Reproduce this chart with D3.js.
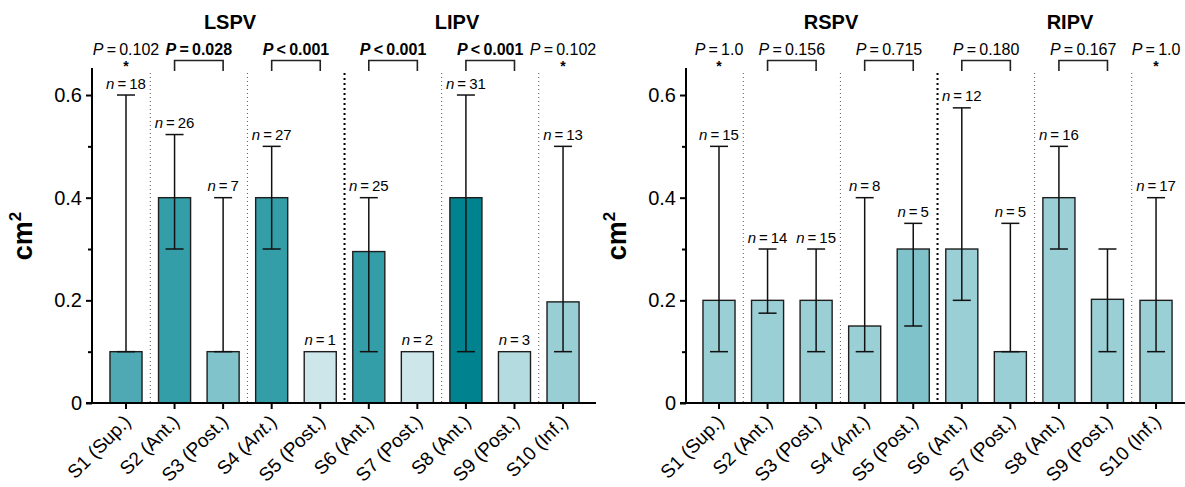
<!DOCTYPE html>
<html>
<head>
<meta charset="utf-8">
<script src="https://cdnjs.cloudflare.com/ajax/libs/d3/7.8.5/d3.min.js"></script>
<style>
  html, body { margin: 0; padding: 0; background: #fff; }
  svg { display: block; }
  text { font-family: "Liberation Sans", Arial, Helvetica, sans-serif; fill: #000; }
</style>
</head>
<body>
<div id="chart"></div>
<script>
// ---------------- DATA ----------------
const categories = ["S1 (Sup.)", "S2 (Ant.)", "S3 (Post.)", "S4 (Ant.)", "S5 (Post.)",
                    "S6 (Ant.)", "S7 (Post.)", "S8 (Ant.)", "S9 (Post.)", "S10 (Inf.)"];
const yTicks = [0, 0.2, 0.4, 0.6];
const yMinorTicks = [0.1, 0.3, 0.5];

// Left panel: LSPV (S1–S5) / LIPV (S6–S10)
const leftTitles = ["LSPV", "LIPV"];
const leftMedian = [0.1, 0.4, 0.1, 0.4, 0.1, 0.295, 0.1, 0.4, 0.1, 0.197];
const leftLow    = [0.1, 0.3, 0.1, 0.3, null, 0.1, null, 0.1, null, 0.1];
const leftHigh   = [0.6, 0.523, 0.4, 0.5, null, 0.4, null, 0.6, null, 0.5];
const leftN      = [18, 26, 7, 27, 1, 25, 2, 31, 3, 13];
const leftColors = ["#4ea9b4", "#339ea8", "#80c3ca", "#339ea8", "#cce6e9",
                    "#339ea8", "#cce6e9", "#01838f", "#b4dbdf", "#99ced4"];
const leftPOp    = ["=", "=", "<", "<", "<", "="];
const leftPVal   = ["0.102", "0.028", "0.001", "0.001", "0.001", "0.102"];
const leftPBold  = [false, true, true, true, true, false];

// Right panel: RSPV (S1–S5) / RIPV (S6–S10)
const rightTitles = ["RSPV", "RIPV"];
const rightMedian = [0.2, 0.2, 0.2, 0.15, 0.3, 0.3, 0.1, 0.4, 0.202, 0.2];
const rightLow    = [0.1, 0.175, 0.1, 0.1, 0.15, 0.2, 0.1, 0.3, 0.1, 0.1];
const rightHigh   = [0.5, 0.3, 0.3, 0.4, 0.35, 0.575, 0.35, 0.5, 0.3, 0.4];
const rightN      = [15, 14, 15, 8, 5, 12, 5, 16, null, 17];
const rightColors = ["#9acfd5", "#9acfd5", "#9acfd5", "#9acfd5", "#7fc2c9",
                     "#9acfd5", "#9acfd5", "#9acfd5", "#9acfd5", "#9acfd5"];
const rightPOp    = ["=", "=", "=", "=", "=", "="];
const rightPVal   = ["1.0", "0.156", "0.715", "0.180", "0.167", "1.0"];
const rightPBold  = [false, false, false, false, false, false];

// Comparison groups (indices into categories)
const pGroups = [[0], [1, 2], [3, 4], [5, 6], [7, 8], [9]];
const separators = [[0, 1], [2, 3], [4, 5], [6, 7], [8, 9]];

// ---------------- DRAW ----------------
const W = 1185, H = 487;
const svg = d3.select("#chart").append("svg").attr("width", W).attr("height", H);
const FONT = "'Liberation Sans', Arial, Helvetica, sans-serif";

function drawPanel(o) {
  const g = svg.append("g");
  const baseY = 403;
  const y = d3.scaleLinear().domain([0, 0.65]).range([baseY, baseY - 0.65 * 513.3]);
  const step = 48.56;
  const x = d3.scaleBand().domain(categories)
    .range([o.firstCenter - step / 2, o.firstCenter - step / 2 + step * categories.length])
    .paddingInner(0.34).paddingOuter(0.17);
  const cx = i => x(categories[i]) + x.bandwidth() / 2;

  // separators
  separators.forEach(([a, b]) => {
    const sx = (cx(a) + cx(b)) / 2;
    const thick = a === 4;
    g.append("line")
      .attr("x1", sx).attr("x2", sx).attr("y1", 73).attr("y2", baseY)
      .attr("stroke", thick ? "#000" : "#555")
      .attr("stroke-width", thick ? 2 : 1)
      .attr("stroke-dasharray", thick ? "2,3" : "1,3");
  });

  // bars
  g.selectAll("rect.bar").data(o.median).join("rect")
    .attr("class", "bar")
    .attr("x", (d, i) => x(categories[i]))
    .attr("width", x.bandwidth())
    .attr("y", d => y(d))
    .attr("height", d => baseY - y(d))
    .attr("fill", (d, i) => o.colors[i])
    .attr("stroke", "#1e1e1e")
    .attr("stroke-width", 1.4);

  // error bars
  const capW = 9;
  o.median.forEach((m, i) => {
    if (o.high[i] == null) return;
    const c = cx(i);
    g.append("line").attr("x1", c).attr("x2", c)
      .attr("y1", y(o.high[i])).attr("y2", y(o.low[i]))
      .attr("stroke", "#111").attr("stroke-width", 1.5);
    [o.high[i], o.low[i]].forEach(v => {
      g.append("line").attr("x1", c - capW).attr("x2", c + capW)
        .attr("y1", y(v)).attr("y2", y(v))
        .attr("stroke", "#111").attr("stroke-width", 1.5);
    });
  });

  // n labels
  o.n.forEach((n, i) => {
    if (n == null) return;
    const top = Math.min(y(o.median[i]), o.high[i] == null ? Infinity : y(o.high[i]));
    const t = g.append("text").attr("x", cx(i)).attr("y", top - 6.5)
      .attr("text-anchor", "middle").attr("font-size", 15);
    t.append("tspan").attr("font-style", "italic").text("n");
    t.append("tspan").text("\u2009=\u2009" + n);
  });

  // P values & brackets
  pGroups.forEach((grp, k) => {
    const xm = grp.length === 1 ? cx(grp[0]) : (cx(grp[0]) + cx(grp[1])) / 2;
    const t = g.append("text").attr("x", xm).attr("y", 55)
      .attr("text-anchor", "middle").attr("font-size", 16)
      .attr("font-weight", o.pBold[k] ? "bold" : "normal");
    t.append("tspan").attr("font-style", "italic").text("P");
    t.append("tspan").text("\u2009" + o.pOp[k] + "\u2009" + o.pVal[k]);
    if (grp.length === 1) {
      g.append("text").attr("x", xm).attr("y", 71.3).attr("text-anchor", "middle")
        .attr("font-size", 14).attr("font-weight", "bold").text("*");
    } else {
      const a = cx(grp[0]), b = cx(grp[1]);
      g.append("path").attr("d", `M${a},71V60.5H${b}V71`)
        .attr("fill", "none").attr("stroke", "#222").attr("stroke-width", 1.6);
    }
  });

  // titles
  o.titles.forEach((tt, k) => {
    g.append("text").attr("x", o.titleX[k]).attr("y", 29)
      .attr("text-anchor", "middle").attr("font-size", 20).attr("font-weight", "bold").text(tt);
  });

  // y axis
  const yAxis = d3.axisLeft(y).tickValues(yTicks).tickSize(6).tickSizeOuter(0).tickPadding(4)
    .tickFormat(d => d === 0 ? "0" : d3.format(".1f")(d));
  const ya = g.append("g").attr("transform", `translate(${o.axisX},0)`).call(yAxis);
  ya.select(".domain").attr("stroke", "#000").attr("stroke-width", 2)
    .attr("d", `M0,${baseY}V68`);
  ya.selectAll(".tick line").attr("stroke", "#000").attr("stroke-width", 2);
  ya.selectAll(".tick text").attr("font-size", 20).attr("font-family", FONT).attr("fill", "#000");
  const yMinor = d3.axisLeft(y).tickValues(yMinorTicks).tickSize(4).tickFormat("");
  const ym = g.append("g").attr("transform", `translate(${o.axisX},0)`).call(yMinor);
  ym.select(".domain").remove();
  ym.selectAll(".tick line").attr("stroke", "#000").attr("stroke-width", 2);

  // x axis
  const xAxis = d3.axisBottom(x).tickSize(6).tickSizeOuter(0).tickFormat("");
  const xa = g.append("g").attr("transform", `translate(0,${baseY})`).call(xAxis);
  xa.select(".domain").attr("stroke", "#000").attr("stroke-width", 2)
    .attr("d", `M${o.axisX - 6},0H${o.xEnd}`);
  xa.selectAll(".tick line").attr("stroke", "#000").attr("stroke-width", 2);

  // x labels (rotated)
  categories.forEach((c, i) => {
    const t = g.append("text")
      .attr("transform", `translate(${cx(i) + 6},${baseY + 20}) rotate(-45)`)
      .attr("text-anchor", "end").attr("font-size", 19);
    if (i === 3) {
      t.append("tspan").text("S4 (");
      t.append("tspan").attr("font-style", "italic").text("Ant.");
      t.append("tspan").text(")");
    } else {
      t.text(c);
    }
  });

  // y label
  const yl = g.append("text")
    .attr("transform", `translate(${o.axisX - 60},${236}) rotate(-90)`)
    .attr("text-anchor", "middle").attr("font-size", 27).attr("font-weight", "bold");
  yl.append("tspan").text("cm");
  yl.append("tspan").attr("font-size", 17).attr("dy", -11).text("2");
}

drawPanel({
  axisX: 92, firstCenter: 126, xEnd: 596,
  median: leftMedian, low: leftLow, high: leftHigh, n: leftN, colors: leftColors,
  pOp: leftPOp, pVal: leftPVal, pBold: leftPBold,
  titles: leftTitles, titleX: [230, 457]
});
drawPanel({
  axisX: 686, firstCenter: 719, xEnd: 1185,
  median: rightMedian, low: rightLow, high: rightHigh, n: rightN, colors: rightColors,
  pOp: rightPOp, pVal: rightPVal, pBold: rightPBold,
  titles: rightTitles, titleX: [831, 1070]
});
</script>
</body>
</html>
